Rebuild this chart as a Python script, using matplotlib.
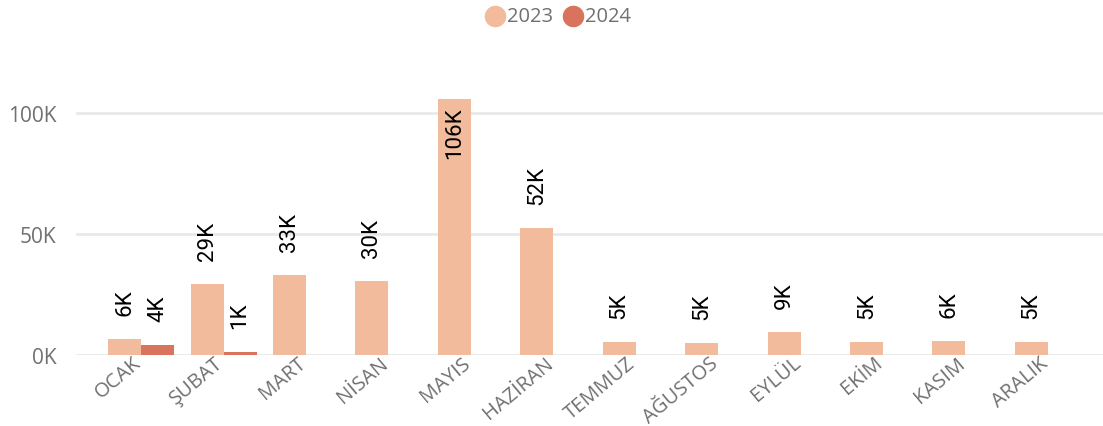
import matplotlib
matplotlib.use("Agg")
import matplotlib.pyplot as plt
import numpy as np
from matplotlib.lines import Line2D
from matplotlib import transforms

months = ["OCAK", "ŞUBAT", "MART", "NİSAN", "MAYIS", "HAZİRAN",
          "TEMMUZ", "AĞUSTOS", "EYLÜL", "EKİM", "KASIM", "ARALIK"]
sales_2023 = [6400, 29200, 33000, 30500, 106000, 52300,
              5100, 4700, 9200, 5300, 5700, 5100]
sales_2024 = [3800, 1100, None, None, None, None,
              None, None, None, None, None, None]
series_names = ["2023", "2024"]
y_ticks = [0, 50000, 100000]
y_tick_labels = ["0K", "50K", "100K"]

color_2023 = "#F2BB9B"
color_2024 = "#D9735D"
grid_color = "#E9E9E9"
tick_color = "#707070"

W, H = 1103, 427
fig = plt.figure(figsize=(W / 100, H / 100), dpi=100)
ax_left, ax_right = 76, 1103
ax_bottom, ax_top = 355.5, 60
ax = fig.add_axes([ax_left / W, 1 - ax_bottom / H,
                   (ax_right - ax_left) / W, (ax_bottom - ax_top) / H])

x = np.arange(len(months))
bw = 0.4
ymax = 122500
ax.set_ylim(0, ymax)
ax.set_xlim(-0.79, 11.67)

for s in ax.spines.values():
    s.set_visible(False)
ax.set_yticks(y_ticks)
ax.set_yticklabels(y_tick_labels, fontsize=15, color=tick_color, family="Open Sans")
ax.tick_params(axis="y", length=0, pad=14)
ax.yaxis.grid(True, color=grid_color, linewidth=2)
ax.set_axisbelow(True)

ax.set_xticks(x)
ax.set_xticklabels(months, fontsize=14.5, color=tick_color, family="Open Sans",
                   rotation=40, ha="right", rotation_mode="anchor")
ax.tick_params(axis="x", length=0, pad=0)
for lbl in ax.get_xticklabels():
    lbl.set_transform(lbl.get_transform() +
                      transforms.ScaledTranslation(-9 / 100, 2 / 100, fig.dpi_scale_trans))

def fmt(v):
    return f"{v / 1000:.0f}K"

def add_label(xpos, v):
    above = transforms.offset_copy(ax.transData, fig=fig, x=0, y=24, units="dots")
    inside = transforms.offset_copy(ax.transData, fig=fig, x=0, y=-8, units="dots")
    if v > 0.72 * ymax:
        ax.text(xpos, v, fmt(v), transform=inside, rotation=90, ha="center",
                va="top", fontsize=16, family="Roboto", color="black")
    else:
        ax.text(xpos, v, fmt(v), transform=above, rotation=90, ha="center",
                va="bottom", fontsize=16, family="Roboto", color="black")

for i, v in enumerate(sales_2023):
    ax.bar(x[i] - bw / 2, v, width=bw, color=color_2023, zorder=2)
    add_label(x[i] - bw / 2, v)
for i, v in enumerate(sales_2024):
    if v is None:
        continue
    ax.bar(x[i] + bw / 2, v, width=bw, color=color_2024, zorder=2)
    add_label(x[i] + bw / 2, v)

# legend: circle markers with series names along the top
legend_y = 1 - 17 / H
for name, color, cx, tx in zip(series_names, (color_2023, color_2024), (495, 573), (507, 585)):
    fig.add_artist(Line2D([cx / W], [legend_y], marker="o", linestyle="",
                          markersize=14.5, markerfacecolor=color, markeredgecolor=color,
                          transform=fig.transFigure))
    fig.text(tx / W, legend_y, name, ha="left", va="center", fontsize=14.5,
             color=tick_color, family="Open Sans")

fig.savefig("out.png", dpi=100)
